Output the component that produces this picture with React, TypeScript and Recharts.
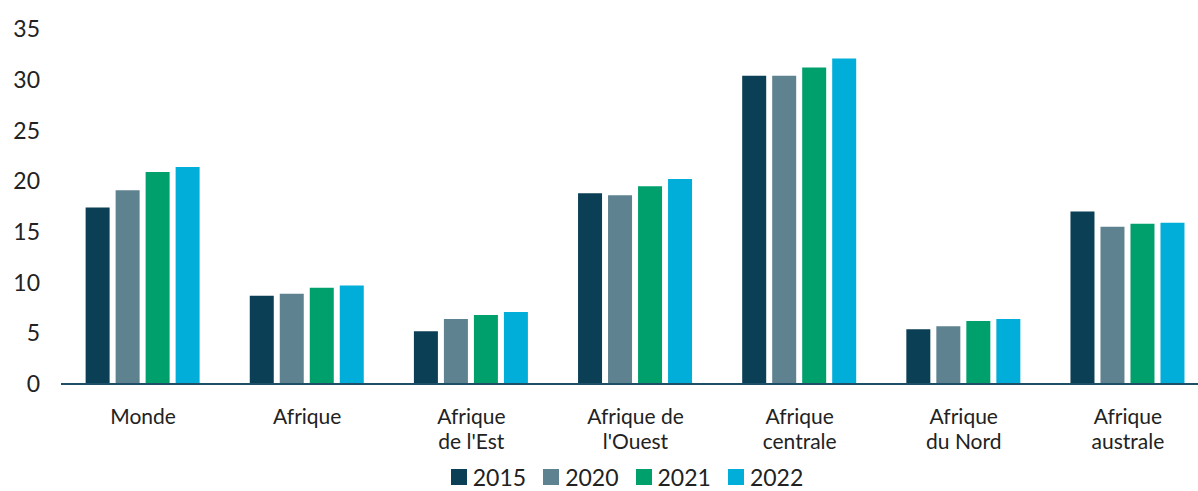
import { BarChart, Bar, XAxis, YAxis } from 'recharts';

const regions = ['Monde', 'Afrique', "Afrique de l'Est", "Afrique de l'Ouest", 'Afrique centrale', 'Afrique du Nord', 'Afrique australe'];
const regionLines = [['Monde'], ['Afrique'], ['Afrique', "de l'Est"], ['Afrique de', "l'Ouest"], ['Afrique', 'centrale'], ['Afrique', 'du Nord'], ['Afrique', 'australe']];
const v2015 = [17.4, 8.7, 5.2, 18.8, 30.4, 5.4, 17.0];
const v2020 = [19.1, 8.9, 6.4, 18.6, 30.4, 5.7, 15.5];
const v2021 = [20.9, 9.5, 6.8, 19.5, 31.2, 6.2, 15.8];
const v2022 = [21.4, 9.7, 7.1, 20.2, 32.1, 6.4, 15.9];
const yTicks = [0, 5, 10, 15, 20, 25, 30, 35];

const series = [
  { key: 'y2015', name: '2015', color: '#0a3f55' },
  { key: 'y2020', name: '2020', color: '#5e8290' },
  { key: 'y2021', name: '2021', color: '#00a06c' },
  { key: 'y2022', name: '2022', color: '#00aed9' },
];

const data = regions.map((r, i) => ({
  region: r,
  y2015: v2015[i],
  y2020: v2020[i],
  y2021: v2021[i],
  y2022: v2022[i],
}));

const FONT = 'Lato, "Open Sans", sans-serif';

function RegionTick({ x, y, index }: any) {
  const lines = regionLines[index] || [];
  return (
    <text x={x} y={y} textAnchor="middle" fill="#222" fontSize={21} fontFamily={FONT}>
      {lines.map((l, i) => (
        <tspan key={i} x={x} dy={i === 0 ? 32 : 25}>{l}</tspan>
      ))}
    </text>
  );
}

function LegendRow() {
  return (
    <div style={{ display: 'flex', justifyContent: 'center', alignItems: 'center', gap: 17, fontFamily: FONT, fontSize: 23, lineHeight: '24px', height: 24, color: '#222', paddingLeft: 56 }}>
      {series.map((s) => (
        <div key={s.key} style={{ display: 'flex', alignItems: 'center', gap: 6 }}>
          <span style={{ width: 16, height: 16, background: s.color, display: 'inline-block' }} />
          <span>{s.name}</span>
        </div>
      ))}
    </div>
  );
}

export default function App() {
  return (
    <div style={{ position: 'absolute', left: 0, top: 0, width: 1198, height: 491, background: '#fff', overflow: 'hidden' }}>
      <BarChart
        width={1210}
        height={460}
        data={data}
        margin={{ top: 29, right: 0, left: 0, bottom: 0 }}
        barCategoryGap="15%"
        barGap={6}
      >
        <XAxis
          dataKey="region"
          interval={0}
          tick={<RegionTick />}
          tickLine={false}
          axisLine={{ stroke: '#1d5066', strokeWidth: 2 }}
          height={76}
        />
        <YAxis
          domain={[0, 35]}
          ticks={yTicks}
          width={61}
          axisLine={false}
          tickLine={false}
          tickMargin={15}
          tick={{ fontSize: 23, fill: '#222', fontFamily: FONT }}
        />
        {series.map((s) => (
          <Bar key={s.key} dataKey={s.key} name={s.name} fill={s.color} isAnimationActive={false} />
        ))}
      </BarChart>
      <div style={{ position: 'absolute', left: 0, top: 465, width: 1198 }}>
        <LegendRow />
      </div>
    </div>
  );
}
